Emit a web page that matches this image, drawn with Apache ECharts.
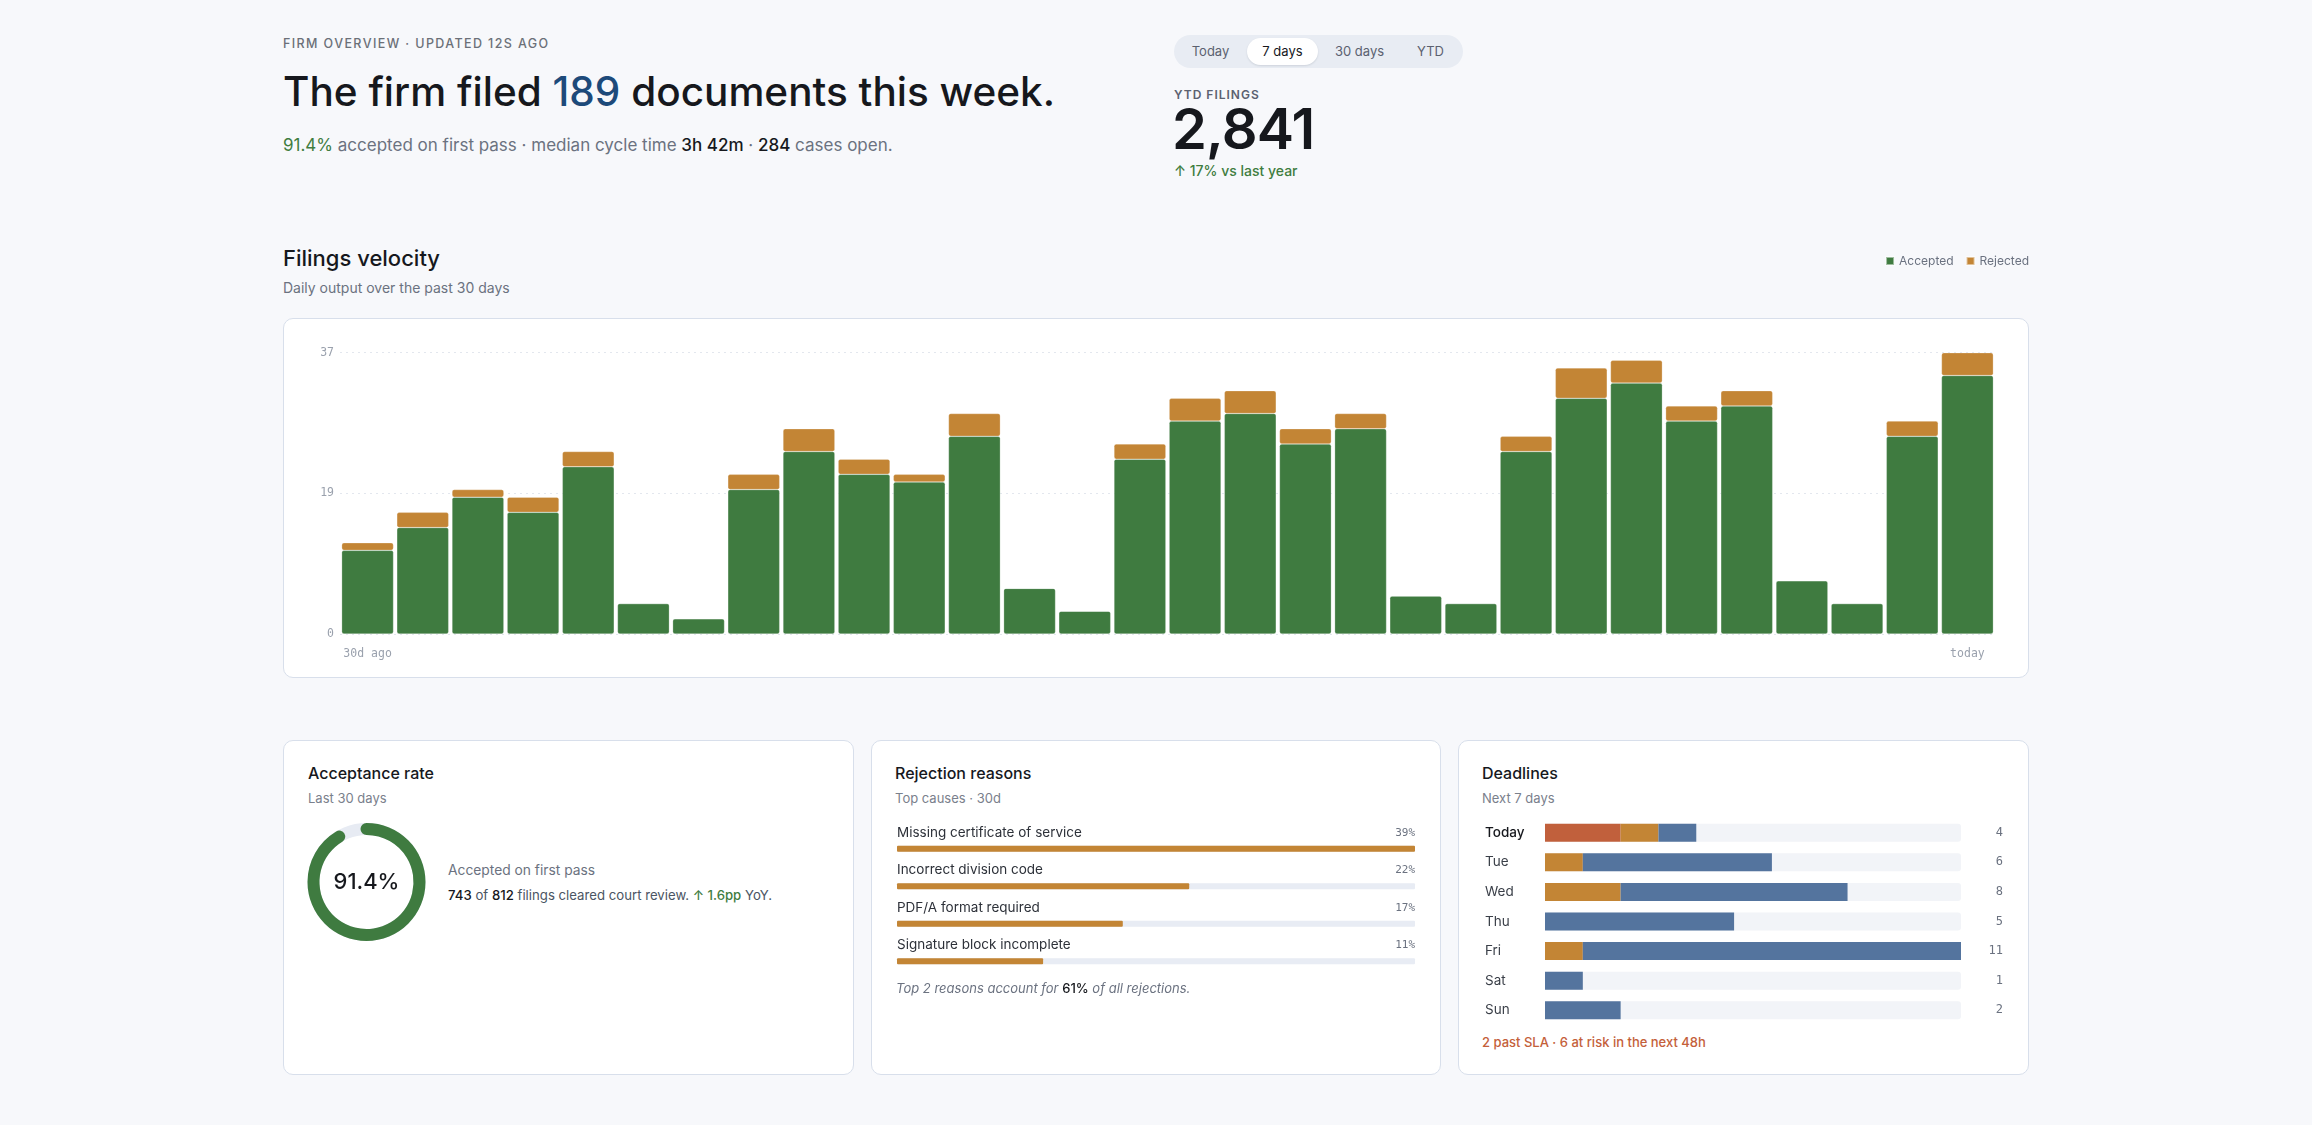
<!DOCTYPE html>
<html>
<head>
<meta charset="utf-8">
<script src="https://cdn.jsdelivr.net/npm/echarts@6/dist/echarts.min.js"></script>
<style>
  html, body { margin: 0; padding: 0; }
  body {
    width: 2312px; height: 1125px; position: relative; overflow: hidden;
    background: #f7f8fb; font-family: Inter, "Noto Sans", sans-serif; color: #16181d;
  }
  .abs { position: absolute; white-space: nowrap; }
  .eyebrow { left: 283px; top: 36px; font-size: 12.5px; line-height: 16px; font-weight: 500; letter-spacing: 1.4px; color: #6b7078; }
  .headline { left: 283px; top: 67px; font-size: 40.5px; line-height: 50px; font-weight: 500; letter-spacing: 0; }
  .headline b { font-weight: 500; color: #1d4a7a; }
  .sub { left: 283px; top: 134px; font-size: 17px; line-height: 22px; color: #6b7280; }
  .sub .g { color: #3f7d3f; }
  .sub b { font-weight: 500; color: #16181d; }
  .seg { left: 1174px; top: 35px; height: 33px; width: 289px; border-radius: 17px; background: #e8ecf3; box-sizing: border-box; padding: 3px; display: flex; gap: 3px; }
  .seg div { height: 27px; line-height: 27px; text-align: center; font-size: 13px; color: #5b6170; border-radius: 14px; }
  .seg .on { background: #fff; color: #16181d; box-shadow: 0 1px 2px rgba(20,30,50,0.12); }
  .ytdl { left: 1174px; top: 87px; font-size: 12px; line-height: 16px; font-weight: 600; letter-spacing: 1px; color: #5b6170; }
  .ytd { left: 1172px; top: 99px; font-size: 56px; line-height: 60px; font-weight: 600; letter-spacing: -0.8px; }
  .grow { left: 1174px; top: 161px; font-size: 14px; line-height: 20px; font-weight: 500; color: #3f7d3f; }
  .sect { left: 283px; top: 245px; font-size: 22px; line-height: 26px; font-weight: 500; }
  .sectsub { left: 283px; top: 279px; font-size: 14px; line-height: 18px; color: #6b7280; }
  .card { position: absolute; background: #fff; border: 1px solid #d8dfeb; border-radius: 10px; box-sizing: border-box; }
  .ctitle { font-size: 16px; line-height: 20px; font-weight: 500; color: #16181d; }
  .csub { font-size: 13px; line-height: 16px; color: #7a808c; }
  .chart { position: absolute; }
</style>
</head>
<body>
<div class="abs eyebrow">FIRM OVERVIEW · UPDATED 12S AGO</div>
<div class="abs headline">The firm filed <b>189</b> documents this week.</div>
<div class="abs sub"><span class="g">91.4%</span> accepted on first pass · median cycle time <b>3h 42m</b> · <b>284</b> cases open.</div>

<div class="abs seg">
  <div style="width:67px">Today</div>
  <div class="on" style="width:71px">7 days</div>
  <div style="width:77px">30 days</div>
  <div style="width:59px">YTD</div>
</div>
<div class="abs ytdl">YTD FILINGS</div>
<div class="abs ytd">2,841</div>
<div class="abs grow">↑ 17% vs last year</div>

<div class="abs sect">Filings velocity</div>
<div class="abs sectsub">Daily output over the past 30 days</div>
<div class="card" style="left:283px;top:318px;width:1746px;height:360px;"></div>
<div class="chart" id="velocity" style="left:283px;top:240px;width:1746px;height:440px;"></div>

<!-- bottom row -->
<div class="card" style="left:283px;top:740px;width:571px;height:335px;"></div>
<div class="card" style="left:871px;top:740px;width:570px;height:335px;"></div>
<div class="card" style="left:1458px;top:740px;width:571px;height:335px;"></div>

<div class="abs ctitle" style="left:308px;top:763px;">Acceptance rate</div>
<div class="abs csub" style="left:308px;top:790px;">Last 30 days</div>
<div class="chart" id="donut" style="left:299px;top:814px;width:135px;height:136px;"></div>
<div class="abs" style="left:448px;top:861px;font-size:13.8px;line-height:18px;color:#6b7280;">Accepted on first pass</div>
<div class="abs" style="left:448px;top:886px;font-size:13.2px;line-height:18px;color:#4b5563;"><span style="color:#16181d;font-weight:500">743</span> of <span style="color:#16181d;font-weight:500">812</span> filings cleared court review. <span style="color:#3f7d3f;font-weight:500">↑ 1.6pp</span> YoY.</div>

<div class="abs ctitle" style="left:895px;top:763px;">Rejection reasons</div>
<div class="abs csub" style="left:895px;top:790px;">Top causes · 30d</div>
<div class="chart" id="reasons" style="left:894px;top:812px;width:524px;height:168px;"></div>
<div class="abs" style="left:896px;top:979px;font-size:13px;line-height:18px;color:#6b7280;font-style:italic;">Top 2 reasons account for <span style="font-style:normal;font-weight:500;color:#16181d">61%</span> of all rejections.</div>

<div class="abs ctitle" style="left:1482px;top:763px;">Deadlines</div>
<div class="abs csub" style="left:1482px;top:790px;">Next 7 days</div>
<div class="chart" id="deadlines" style="left:1482px;top:814px;width:530px;height:211px;"></div>
<div class="abs" style="left:1482px;top:1033px;font-size:13px;line-height:18px;font-weight:500;color:#c4603a;">2 past SLA · 6 at risk in the next 48h</div>

<script>
// 近30天每日提交量
var accepted = [11, 14, 18, 16, 22, 4, 2, 19, 24, 21, 20, 26, 6, 3, 23, 28, 29, 25, 27, 5, 4, 24, 31, 33, 28, 30, 7, 4, 26, 34];
var rejected = [1, 2, 1, 2, 2, 0, 0, 2, 3, 2, 1, 3, 0, 0, 2, 3, 3, 2, 2, 0, 0, 2, 4, 3, 2, 2, 0, 0, 2, 3];
var edgeLabels = ['30d ago', 'today'];

// 驳回原因
var reasonNames = ['Missing certificate of service', 'Incorrect division code', 'PDF/A format required', 'Signature block incomplete'];
var reasonShares = [39, 22, 17, 11];

// 接受率
var acceptRate = 91.4;

// 截止日期
var deadlineDays = ['Today', 'Tue', 'Wed', 'Thu', 'Fri', 'Sat', 'Sun'];
var pastSla = [2, 0, 0, 0, 0, 0, 0];
var atRisk = [1, 1, 2, 0, 1, 0, 0];
var onTrack = [1, 5, 6, 5, 10, 1, 2];

var GREEN = '#3f7b40', AMBER = '#c38535', BLUE = '#54749e', RED = '#c1603c';
var MONO = '"DejaVu Sans Mono", monospace';

// 柱状图 - 每日产出
var velocity = echarts.init(document.getElementById('velocity'));
var days = accepted.map(function (v, i) { return i; });
var topVal = Math.max.apply(null, accepted.map(function (v, i) { return v + rejected[i]; }));
velocity.setOption({
    animation: false,
    legend: {
        right: 0, top: 15, padding: 0, itemWidth: 8, itemHeight: 8, itemGap: 12, icon: 'rect',
        textStyle: { fontSize: 12, color: '#6b7280', fontFamily: 'Inter' },
        data: ['Accepted', 'Rejected']
    },
    grid: { left: 57, right: 34, top: 112.7, bottom: 46 },
    xAxis: {
        type: 'category', data: days,
        axisLine: { show: false }, axisTick: { show: false },
        axisLabel: {
            interval: function (i) { return i === 0 || i === days.length - 1; },
            formatter: function (v, i) { return i === 0 ? edgeLabels[0] : edgeLabels[1]; },
            fontFamily: MONO, fontSize: 11.5, color: '#9aa1ad', margin: 14
        }
    },
    yAxis: {
        type: 'value', min: 0, max: topVal, interval: topVal / 2,
        axisLabel: {
            formatter: function (v) { return Math.round(v); },
            fontFamily: MONO, fontSize: 11.5, color: '#9aa1ad', margin: 6
        },
        splitLine: { lineStyle: { type: [2, 4], color: '#e3e7ee' } }
    },
    series: [{
        name: 'Accepted', type: 'bar', stack: 'f', data: accepted, barCategoryGap: '6%',
        itemStyle: { color: GREEN, borderRadius: 2, borderColor: 'rgba(255,255,255,0.5)', borderWidth: 0.5 }
    }, {
        name: 'Rejected', type: 'bar', stack: 'f', data: rejected,
        itemStyle: { color: AMBER, borderRadius: 2, borderColor: 'rgba(255,255,255,0.5)', borderWidth: 0.5 }
    }]
});

// 环形图 - 接受率
var donut = echarts.init(document.getElementById('donut'));
donut.setOption({
    animation: false,
    series: [{
        type: 'gauge', startAngle: 90, endAngle: -270, min: 0, max: 100,
        radius: 59, center: ['50%', '50%'],
        pointer: { show: false },
        progress: { show: true, roundCap: true, width: 12, itemStyle: { color: GREEN } },
        axisLine: { lineStyle: { width: 12, color: [[1, '#e7ebf3']] } },
        splitLine: { show: false }, axisTick: { show: false }, axisLabel: { show: false },
        title: { show: false },
        detail: {
            offsetCenter: [0, 0], formatter: '{value}%', fontSize: 22, fontWeight: 500,
            color: '#16181d', fontFamily: 'Inter'
        },
        data: [{ value: acceptRate }]
    }]
});

// 驳回原因条形图
var reasons = echarts.init(document.getElementById('reasons'));
reasons.setOption({
    animation: false,
    grid: { left: 0, right: 0, top: 18, bottom: 0 },
    xAxis: { type: 'value', min: 0, max: Math.max.apply(null, reasonShares), show: false },
    yAxis: [{
        type: 'category', data: reasonNames, inverse: true,
        axisLine: { show: false }, axisTick: { show: false },
        axisLabel: {
            inside: true, margin: 0, verticalAlign: 'bottom', lineHeight: 16, padding: [0, 0, 8, 0],
            fontSize: 13.5, color: '#2d3139', fontFamily: 'Inter'
        }
    }, {
        type: 'category', position: 'right', inverse: true,
        data: reasonShares.map(function (v) { return v + '%'; }),
        axisLine: { show: false }, axisTick: { show: false },
        axisLabel: {
            inside: true, margin: 0, verticalAlign: 'bottom', lineHeight: 16, padding: [0, 0, 8, 0],
            fontSize: 11, color: '#6b7280', fontFamily: MONO
        }
    }],
    series: [{
        type: 'bar', data: reasonShares, barWidth: 6,
        showBackground: true, backgroundStyle: { color: '#e8ecf4', borderRadius: 1 },
        itemStyle: { color: AMBER, borderRadius: 1 }
    }]
});

// 截止日期堆叠条形图
var deadlines = echarts.init(document.getElementById('deadlines'));
var totals = onTrack.map(function (v, i) { return pastSla[i] + atRisk[i] + v; });
deadlines.setOption({
    animation: false,
    grid: { left: 60, right: 51, top: 4, bottom: 0 },
    xAxis: { type: 'value', min: 0, max: Math.max.apply(null, totals), show: false },
    yAxis: [{
        type: 'category', data: deadlineDays, inverse: true,
        axisLine: { show: false }, axisTick: { show: false },
        axisLabel: {
            margin: 60, align: 'left', fontSize: 13.5, color: '#3a3f48', fontFamily: 'Inter',
            formatter: function (v, i) { return i === 0 ? '{t|' + v + '}' : v; },
            rich: { t: { fontSize: 13.5, color: '#16181d', fontWeight: 500, fontFamily: 'Inter' } }
        }
    }, {
        type: 'category', position: 'right', inverse: true,
        data: totals.map(String),
        axisLine: { show: false }, axisTick: { show: false },
        axisLabel: { margin: 42, align: 'right', fontSize: 12, color: '#6b7280', fontFamily: MONO }
    }],
    series: [{
        name: 'Past SLA', type: 'bar', stack: 'd', data: pastSla, barWidth: 18,
        showBackground: true, backgroundStyle: { color: '#f2f4f8', borderRadius: 3 },
        itemStyle: { color: RED }
    }, {
        name: 'At risk', type: 'bar', stack: 'd', data: atRisk, barWidth: 18,
        itemStyle: { color: AMBER }
    }, {
        name: 'On track', type: 'bar', stack: 'd', data: onTrack, barWidth: 18,
        itemStyle: { color: BLUE }
    }]
});

window.addEventListener('resize', function () {
    velocity.resize(); donut.resize(); reasons.resize(); deadlines.resize();
});
</script>
</body>
</html>
